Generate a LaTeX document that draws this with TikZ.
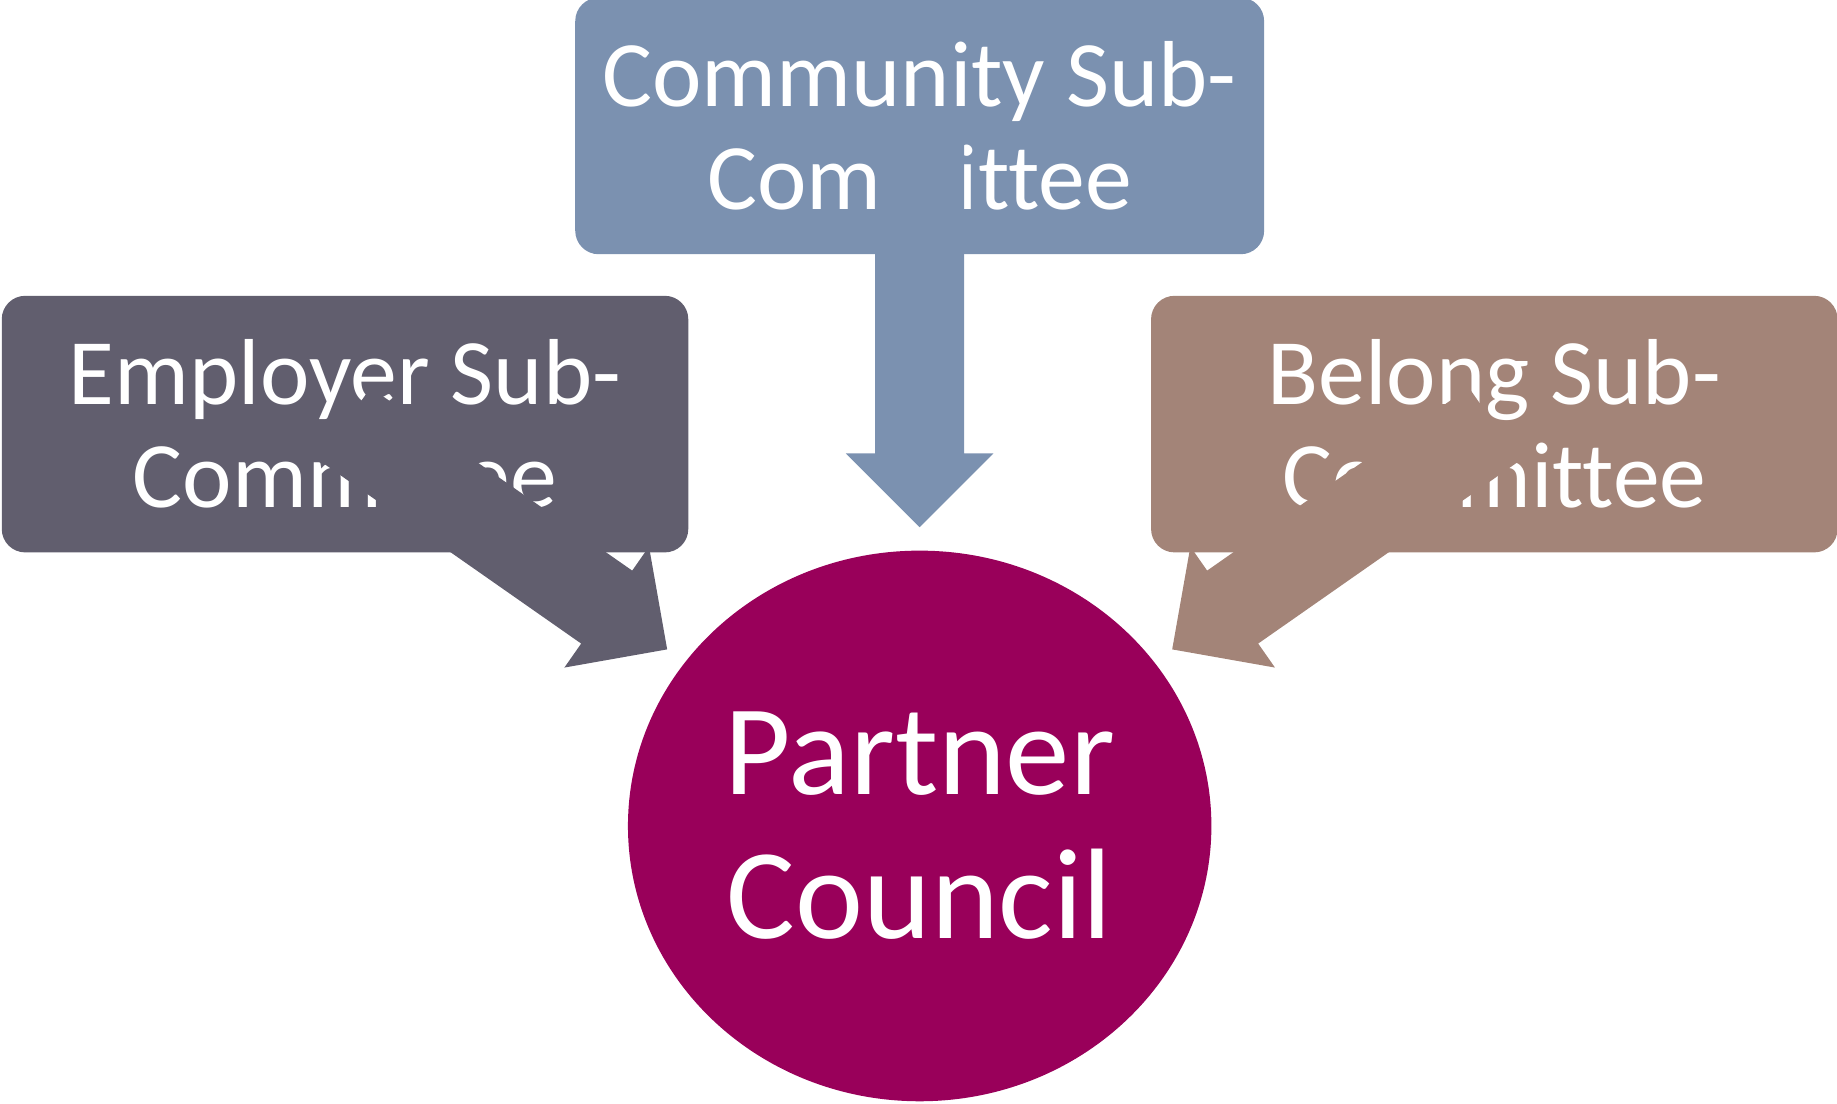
\documentclass[tikz,border=0pt]{standalone}
\usepackage{fontspec}
\setmainfont[Ligatures=NoCommon]{Carlito}
\usetikzlibrary{calc,shapes.geometric}
\definecolor{commblue}{RGB}{123,145,176}
\definecolor{empgrey}{RGB}{97,94,110}
\definecolor{belbrown}{RGB}{163,132,120}
\definecolor{councilred}{RGB}{153,0,90}

\begin{document}
\begin{tikzpicture}[x=1pt,y=1pt,yscale=-1,
  subbox/.style={rounded corners=20pt,minimum width=586pt,minimum height=219pt,inner sep=0pt,text=white,align=center,font=\fontsize{80}{88}\selectfont},
  councilshape/.style={ellipse,minimum width=498pt,minimum height=470pt,inner sep=0pt,text=white,align=center,font=\fontsize{110}{123}\selectfont}]
\useasboundingbox (0,0) rectangle (1568,942);

%Shape: Ellipse [council]
\node [councilshape,fill=councilred] (council) at (785,705) {Partner\\Council};

%Shape: Rounded Rectangles [sub-committees]
\node [subbox,fill=commblue,minimum width=588pt] (community) at (785,107.5) {Community Sub-\\Committee};
\node [subbox,fill=empgrey] (employer) at (294.5,362) {Employer Sub-\\Committee};
\node [subbox,fill=belbrown] (belong) at (1275.5,362) {Belong Sub-\\Committee};

%Arrow tips, short of the ellipse
\coordinate (ctip) at ($(council.center)!255pt!(community.center)$);
\coordinate (etip) at ($(council.center)!263pt!(employer.center)$);
\coordinate (btip) at ($(council.center)!263pt!(belong.center)$);

%Shape: Block Arrows [from box centre to tip]
\foreach \from/\to/\col in {community/ctip/commblue,employer/etip/empgrey,belong/btip/belbrown}{
  \coordinate (hb) at ($(\to)!63pt!(\from.center)$);
  \fill [\col] ($(\from.center)!38pt!90:(\to)$) -- ($(hb)!38pt!90:(\to)$) -- ($(hb)!63pt!90:(\to)$) -- (\to)
    -- ($(hb)!63pt!-90:(\to)$) -- ($(hb)!38pt!-90:(\to)$) -- ($(\from.center)!38pt!-90:(\to)$) -- cycle;
}

\end{tikzpicture}
\end{document}
